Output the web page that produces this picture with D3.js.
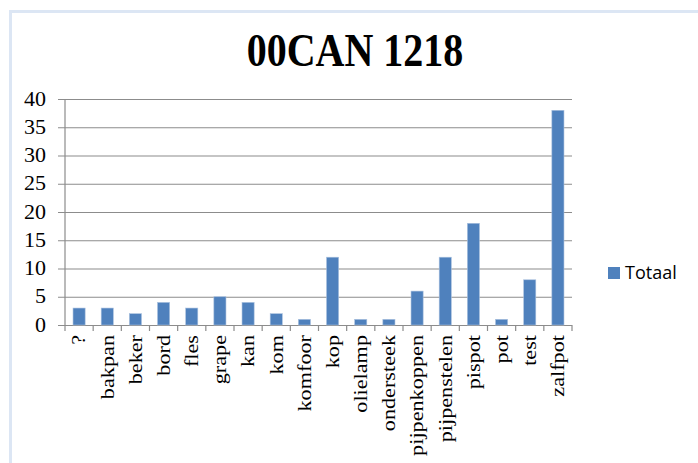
<!DOCTYPE html>
<html>
<head>
<meta charset="utf-8">
<script src="https://cdn.jsdelivr.net/npm/d3@7"></script>
<style>
  html, body { margin: 0; padding: 0; background: #ffffff; }
  svg { display: block; }
</style>
</head>
<body>
<div id="chart"></div>
<script>
// Staafdiagram 00CAN 1218: aantallen per vormtype.
const categories = ['?', 'bakpan', 'beker', 'bord', 'fles', 'grape', 'kan', 'kom', 'komfoor', 'kop',
  'olielamp', 'ondersteek', 'pijpenkoppen', 'pijpenstelen', 'pispot', 'pot', 'test', 'zalfpot'];
const totaal = [3, 3, 2, 4, 3, 5, 4, 2, 1, 12, 1, 1, 6, 12, 18, 1, 8, 38];
const yTicks = [0, 5, 10, 15, 20, 25, 30, 35, 40];
const seriesName = 'Totaal';
const title = '00CAN 1218';

const width = 698, height = 463;
const margin = { top: 99, right: 126, bottom: 138, left: 65 };
const W = width - margin.left - margin.right;
const H = height - margin.top - margin.bottom;
const barColor = '#4f81bd';
const gridColor = '#8c8c8c';
const serif = '"Liberation Serif", "Times New Roman", serif';

const svg = d3.select('#chart').append('svg')
  .attr('width', width).attr('height', height);

// lichtblauw kader
svg.append('rect')
  .attr('x', 10.5).attr('y', 11.5)
  .attr('width', width + 10).attr('height', height + 10)
  .attr('fill', 'none').attr('stroke', '#dce6f4').attr('stroke-width', 3);

// titel iets hoger dan breed, zoals in het origineel
svg.append('text')
  .attr('transform', 'translate(355,66) scale(1,1.15)')
  .attr('text-anchor', 'middle')
  .attr('font-family', serif).attr('font-weight', 700).attr('font-size', '40px')
  .attr('fill', '#000')
  .text(title);

const x = d3.scaleBand().domain(categories).range([0, W]).padding(0);
const y = d3.scaleLinear().domain([0, 40]).range([H, 0]);

const g = svg.append('g').attr('transform', `translate(${margin.left},${margin.top})`);

// rasterlijnen + y-as
const yAxis = g.append('g')
  .call(d3.axisLeft(y).tickValues(yTicks).tickSize(-W).tickPadding(19).tickSizeOuter(0));
yAxis.select('.domain').remove();
yAxis.selectAll('.tick line').attr('x1', -7).attr('x2', W).attr('stroke', gridColor).attr('stroke-width', 1.2);
yAxis.selectAll('.tick text')
  .attr('dy', '0.28em')
  .attr('font-family', serif).attr('font-size', '22px').attr('fill', '#000');

g.append('line')
  .attr('x1', 0).attr('x2', 0).attr('y1', 0).attr('y2', H)
  .attr('stroke', gridColor).attr('stroke-width', 1.2);

// x-as streepjes tussen categorieen
const bounds = categories.map(c => x(c)).concat([W]);
g.selectAll('.xtick').data(bounds).join('line')
  .attr('class', 'xtick')
  .attr('x1', d => d).attr('x2', d => d)
  .attr('y1', H).attr('y2', H + 6)
  .attr('stroke', gridColor).attr('stroke-width', 1.2);

const barW = x.bandwidth() * 0.43;
g.selectAll('.bar').data(categories).join('rect')
  .attr('class', 'bar')
  .attr('x', d => x(d) + (x.bandwidth() - barW) / 2)
  .attr('y', (d, i) => y(totaal[i]))
  .attr('width', barW)
  .attr('height', (d, i) => H - y(totaal[i]))
  .attr('fill', barColor)
  .attr('stroke', '#a9c0de').attr('stroke-width', 0.6);

// categorielabels: gedraaid en in leesrichting iets uitgerekt
g.selectAll('.xlab').data(categories).join('text')
  .attr('class', 'xlab')
  .attr('transform', d => `translate(${x(d) + x.bandwidth() / 2},${H + 10}) rotate(-90) scale(1.17,1)`)
  .attr('text-anchor', 'end')
  .attr('dy', '0.33em')
  .attr('font-family', serif).attr('font-size', '19px').attr('fill', '#000')
  .text(d => d);

// legenda
const leg = svg.append('g').attr('transform', 'translate(608,267)');
leg.append('rect').attr('width', 12).attr('height', 12).attr('fill', barColor);
leg.append('text')
  .attr('x', 17).attr('y', 6).attr('dy', '0.35em')
  .attr('font-family', '"Open Sans", "Liberation Sans", sans-serif').attr('font-size', '18px')
  .attr('fill', '#000')
  .text(seriesName);
</script>
</body>
</html>
